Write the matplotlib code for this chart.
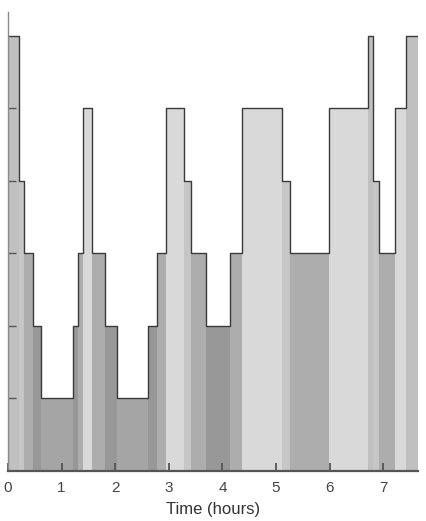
import numpy as np
import matplotlib.pyplot as plt

# step boundaries (hours) and the level held on each step
edges = [0.000, 0.205, 0.299, 0.467, 0.609, 1.213, 1.299, 1.400, 1.568, 1.811,
         2.035, 2.613, 2.781, 2.944, 3.285, 3.416, 3.696, 4.144, 4.368, 5.102,
         5.264, 5.979, 6.707, 6.800, 6.912, 7.211, 7.424, 7.648]
levels = [6, 4, 3, 2, 1, 2, 3, 5, 3, 2, 1, 2, 3, 5, 4, 3, 2, 3, 5, 4, 3, 5, 6, 4, 3, 5, 6]

# fill shade per level
level_colors = {1: "#a5a5a5", 2: "#989898", 3: "#adadad",
                4: "#c6c6c6", 5: "#d9d9d9", 6: "#c0c0c0"}

xticks = [0, 1, 2, 3, 4, 5, 6, 7]

plt.rcParams["font.family"] = ["Liberation Sans", "DejaVu Sans"]

fig = plt.figure(figsize=(4.26, 5.21), dpi=100)
ax = fig.add_axes([8 / 426, 50 / 521, 410 / 426, 459 / 521])

edges = np.array(edges)
widths = np.diff(edges)
ax.bar(edges[:-1], levels, width=widths, align="edge",
       color=[level_colors[l] for l in levels], linewidth=0, zorder=1)

ax.step(edges, levels + [levels[-1]], where="post", color="#3a3a3a", lw=1.0, zorder=2)

ax.set_xlim(0, edges[-1])
ax.set_ylim(0, 6.33)

for s in ["top", "right"]:
    ax.spines[s].set_visible(False)
ax.spines["left"].set_color("#8a8a8a")
ax.spines["left"].set_linewidth(1.0)
ax.spines["bottom"].set_color("#555555")
ax.spines["bottom"].set_linewidth(1.6)
ax.spines["left"].set_zorder(3)
ax.spines["bottom"].set_zorder(3)

ax.set_xticks(xticks)
ax.set_xticklabels([str(t) for t in xticks])
ax.set_yticks([1, 2, 3, 4, 5])
ax.set_yticklabels([])
ax.tick_params(axis="x", direction="in", length=5.5, width=1.3, color="#555555",
               labelsize=11, labelcolor="#444444", pad=7)
ax.tick_params(axis="y", direction="in", length=5.5, width=1.0, color="#555555")
ax.set_xlabel("Time (hours)", fontsize=12, color="#333333", labelpad=5)

fig.savefig("out.png", dpi=100)
